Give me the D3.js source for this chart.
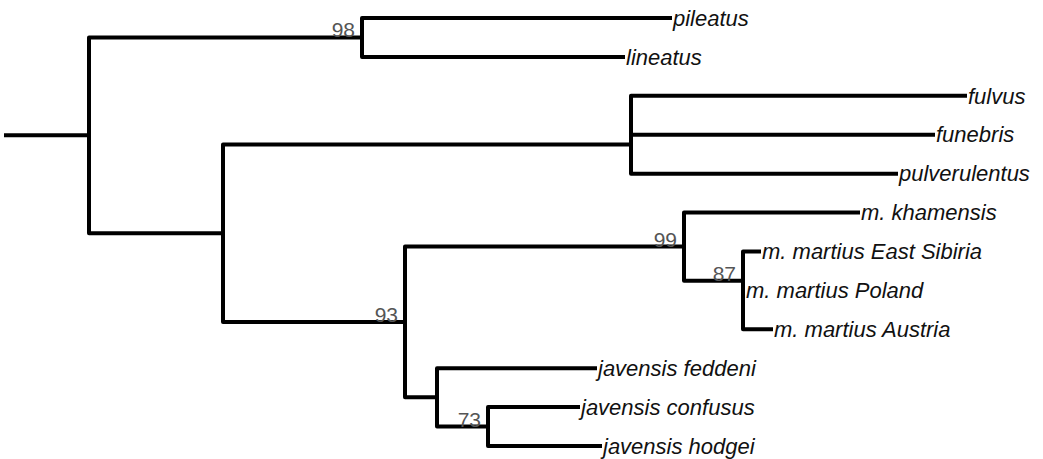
<!DOCTYPE html>
<html lang="en">
<head>
  <meta charset="UTF-8">
  <title>Phylogenetic tree</title>
  <script src="https://d3js.org/d3.v7.min.js"></script>
  <style>
    body {
      margin: 0;
      background: #fff;
      font-family: "Liberation Sans", Arial, sans-serif;
    }
    .branch {
      fill: none;
      stroke: #000;
      stroke-width: 4px;
      stroke-linejoin: round;
      stroke-linecap: square;
    }
    .taxon {
      font-style: italic;
      font-size: 22px;
      fill: #111;
    }
    .support {
      font-size: 21px;
      fill: #555;
    }
  </style>
</head>
<body>
  <div id="chart"></div>

  <script>
    // tree as a parent table (order = top-to-bottom order of the tips)
    const nodeIds = [
      "root", "n98", "pileatus", "lineatus",
      "nA", "nF", "nF2", "fulvus", "funebris", "pulverulentus",
      "n93", "n99", "m. khamensis", "n87", "m. martius East Sibiria",
      "n87b", "m. martius Poland", "m. martius Austria",
      "nJ", "javensis feddeni", "n73", "javensis confusus", "javensis hodgei"
    ];
    const parentIds = [
      "", "root", "n98", "n98",
      "root", "nA", "nF", "nF2", "nF2", "nF",
      "nA", "n93", "n99", "n99", "n87",
      "n87", "n87b", "n87b",
      "n93", "nJ", "nJ", "n73", "n73"
    ];
    const branchLengths = [
      0.083, 0.273, 0.308, 0.261,
      0.134, 0.408, 0, 0.334, 0.302, 0.265,
      0.182, 0.279, 0.174, 0.059, 0.016,
      0, 0, 0.028,
      0.032, 0.158, 0.051, 0.090, 0.112
    ];
    const supportValues = [
      null, 98, null, null,
      null, null, null, null, null, null,
      93, 99, null, 87, null,
      null, null, null,
      null, null, 73, null, null
    ];

    const width = 1043;
    const height = 459;

    const rows = nodeIds.map((id, i) => ({
      id: id,
      parent: parentIds[i] || null,
      len: branchLengths[i],
      support: supportValues[i]
    }));

    const root = d3.stratify()
      .id(d => d.id)
      .parentId(d => d.parent)(rows);

    // cumulative depth
    root.eachBefore(n => {
      n.depthLen = (n.parent ? n.parent.depthLen : 0) + n.data.len;
    });

    const leaves = root.leaves();
    const maxDepth = d3.max(leaves, d => d.depthLen);

    const x = d3.scaleLinear()
      .domain([0, maxDepth])
      .range([6, 965]);

    const y = d3.scalePoint()
      .domain(leaves.map(d => d.id))
      .range([18, 446]);

    // internal nodes sit halfway between first and last child
    root.eachAfter(n => {
      n.px = x(n.depthLen);
      if (n.children) {
        const c = n.children;
        n.py = (c[0].py + c[c.length - 1].py) / 2;
      } else {
        n.py = y(n.id);
      }
    });

    const svg = d3.select("#chart")
      .append("svg")
      .attr("width", width)
      .attr("height", height);

    // root stem
    svg.append("path")
      .attr("class", "branch")
      .attr("d", `M${x(0)},${root.py}H${root.px}`);

    // elbow branches
    svg.selectAll(".edge")
      .data(root.descendants().filter(d => d.parent))
      .enter()
      .append("path")
      .attr("class", "branch edge")
      .attr("d", d => `M${d.parent.px},${d.parent.py}V${d.py}H${d.px}`);

    // tip labels
    svg.selectAll(".taxon")
      .data(leaves)
      .enter()
      .append("text")
      .attr("class", "taxon")
      .attr("x", d => d.px + 3)
      .attr("y", d => d.py)
      .attr("dy", "0.35em")
      .text(d => d.id);

    // bootstrap support
    svg.selectAll(".support")
      .data(root.descendants().filter(d => d.data.support != null))
      .enter()
      .append("text")
      .attr("class", "support")
      .attr("text-anchor", "end")
      .attr("x", d => d.px - 7)
      .attr("y", d => d.py)
      .text(d => d.data.support);
  </script>
</body>
</html>
